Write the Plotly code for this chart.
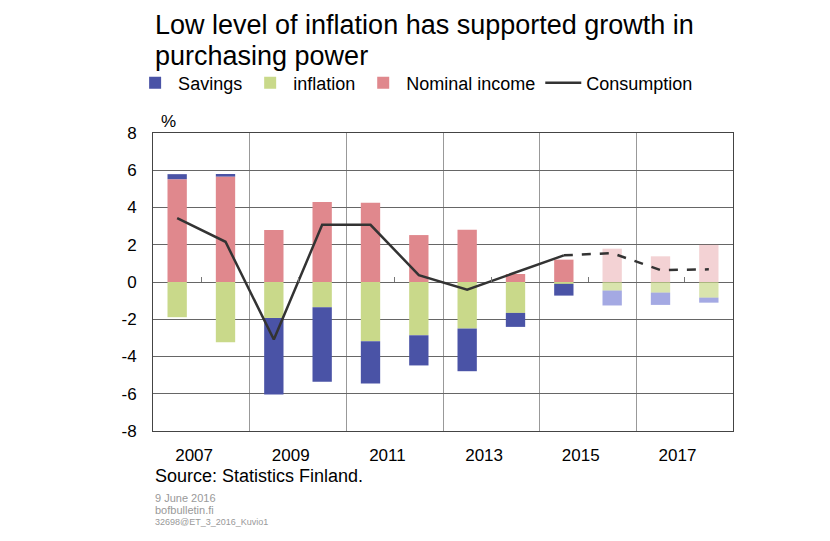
import plotly.graph_objects as go

years = [2007, 2008, 2009, 2010, 2011, 2012, 2013, 2014, 2015, 2016, 2017, 2018]
savings = [0.27, 0.14, -4.11, -4.0, -2.27, -1.62, -2.29, -0.75, -0.63, -0.8, -0.66, -0.27]
inflation = [-1.89, -3.23, -1.93, -1.36, -3.18, -2.86, -2.5, -1.66, -0.1, -0.46, -0.57, -0.84]
nominal_income = [5.52, 5.66, 2.79, 4.30, 4.25, 2.52, 2.80, 0.43, 1.2, 1.79, 1.38, 2.0]
consumption = [3.43, 2.16, -3.09, 3.07, 3.07, 0.37, -0.41, 0.5, 1.43, 1.55, 0.64, 0.68]
forecast_from = 2016  # lighter bars, dashed line from last actual year
tick_years = [2007, 2009, 2011, 2013, 2015, 2017]
y_ticks = [8, 6, 4, 2, 0, -2, -4, -6, -8]
y_labels = ["8", "6", "4", "2", "0", "-2", "-4", "-6", "-8"]

FONT = "Liberation Sans, Arial, sans-serif"
OFF = 8  # page body margin
LABEL_SHIFT = 0.35  # tick labels sit right of the category centre, as in the original

def colors(solid, light):
    return [light if y >= forecast_from else solid for y in years]

fig = go.Figure()
fig.add_trace(go.Bar(x=years, y=nominal_income, name="Nominal income", legendrank=3,
                     marker=dict(color=colors("#e0888d", "rgba(224,136,141,0.38)"), line_width=0),
                     width=0.4))
fig.add_trace(go.Bar(x=years, y=inflation, name="inflation", legendrank=2,
                     marker=dict(color=colors("#c9d98a", "rgba(201,217,138,0.7)"), line_width=0),
                     width=0.4))
fig.add_trace(go.Bar(x=years, y=savings, name="Savings", legendrank=1,
                     marker=dict(color=colors("#4a53a6", "rgba(74,83,200,0.5)"), line_width=0),
                     width=0.4))

act_x = [y for y in years if y < forecast_from]
act_y = [c for y, c in zip(years, consumption) if y < forecast_from]
fc_x = [y for y in years if y >= forecast_from - 1]
fc_y = [c for y, c in zip(years, consumption) if y >= forecast_from - 1]
fig.add_trace(go.Scatter(x=act_x, y=act_y, mode="lines", name="Consumption", legendrank=4,
                         line=dict(color="#333333", width=2.5)))
fig.add_trace(go.Scatter(x=fc_x, y=fc_y, mode="lines", showlegend=False,
                         line=dict(color="#333333", width=2.5, dash="dash")))

minor_ticks = [y + 0.5 for y in tick_years]

fig.update_layout(
    width=830 - OFF, height=541 - OFF,
    margin=dict(l=153 - OFF, r=97, t=133 - OFF, b=110),
    paper_bgcolor="white", plot_bgcolor="white",
    barmode="relative",
    font=dict(family=FONT, color="black", size=16),
    legend=dict(orientation="h", x=-0.036, xanchor="left", y=1 + 50/298, yanchor="middle",
                font=dict(size=18), bgcolor="rgba(0,0,0,0)", traceorder="normal",
                itemwidth=36),
    showlegend=True,
    xaxis=dict(range=[2006.5, 2018.5], tickvals=[t + LABEL_SHIFT for t in tick_years],
               ticktext=[str(t) for t in tick_years],
               showgrid=False, zeroline=False, showline=True, linecolor="#444", linewidth=1,
               mirror=True, ticks="", tickfont=dict(size=17), ticklabelstandoff=9,
               minor=dict(tick0=2006.5, dtick=2, showgrid=True, gridcolor="#999", gridwidth=1)),
    xaxis2=dict(range=[2006.5, 2018.5], overlaying="x", anchor="free", position=0.5,
                side="top", tickvals=minor_ticks, ticks="outside", ticklen=5,
                tickcolor="#777", tickwidth=1, showticklabels=False, showgrid=False,
                showline=False, zeroline=False),
    yaxis=dict(range=[-8, 8], tickvals=y_ticks, ticktext=y_labels, showgrid=True,
               gridcolor="#666", gridwidth=1,
               zeroline=False, showline=True, linecolor="#444", linewidth=1, mirror=True,
               ticks="", tickfont=dict(size=17), ticklabelstandoff=12),
)
# invisible trace to activate the zero-line tick axis
fig.add_trace(go.Scatter(x=[years[0]], y=[0], xaxis="x2", mode="none", showlegend=False,
                         hoverinfo="skip"))

fig.add_annotation(text="Low level of inflation has supported growth in", xref="paper",
                   yref="paper", x=0.0, xanchor="left", y=1 + 108/298, yanchor="middle",
                   showarrow=False, font=dict(size=27))
fig.add_annotation(text="purchasing power", xref="paper",
                   yref="paper", x=0.0, xanchor="left", y=1 + 77/298, yanchor="middle",
                   showarrow=False, font=dict(size=27))
fig.add_annotation(text="%", xref="paper", yref="paper", x=0.010, y=1 + 11/298,
                   xanchor="left", yanchor="middle", showarrow=False, font=dict(size=17))
fig.add_annotation(text="Source: Statistics Finland.", xref="paper", yref="paper",
                   x=0.0, xanchor="left", y=-45/298, yanchor="middle",
                   showarrow=False, font=dict(size=18))
fig.add_annotation(text="9 June 2016", xref="paper", yref="paper", x=0.0, xanchor="left",
                   y=-67/298, yanchor="middle", showarrow=False,
                   font=dict(size=11, color="#999"))
fig.add_annotation(text="bofbulletin.fi", xref="paper", yref="paper", x=0.0, xanchor="left",
                   y=-79/298, yanchor="middle", showarrow=False,
                   font=dict(size=11, color="#999"))
fig.add_annotation(text="32698@ET_3_2016_Kuvio1", xref="paper", yref="paper", x=0.0,
                   xanchor="left", y=-91/298, yanchor="middle", showarrow=False,
                   font=dict(size=9, color="#999"))

fig.write_html("out.html")
